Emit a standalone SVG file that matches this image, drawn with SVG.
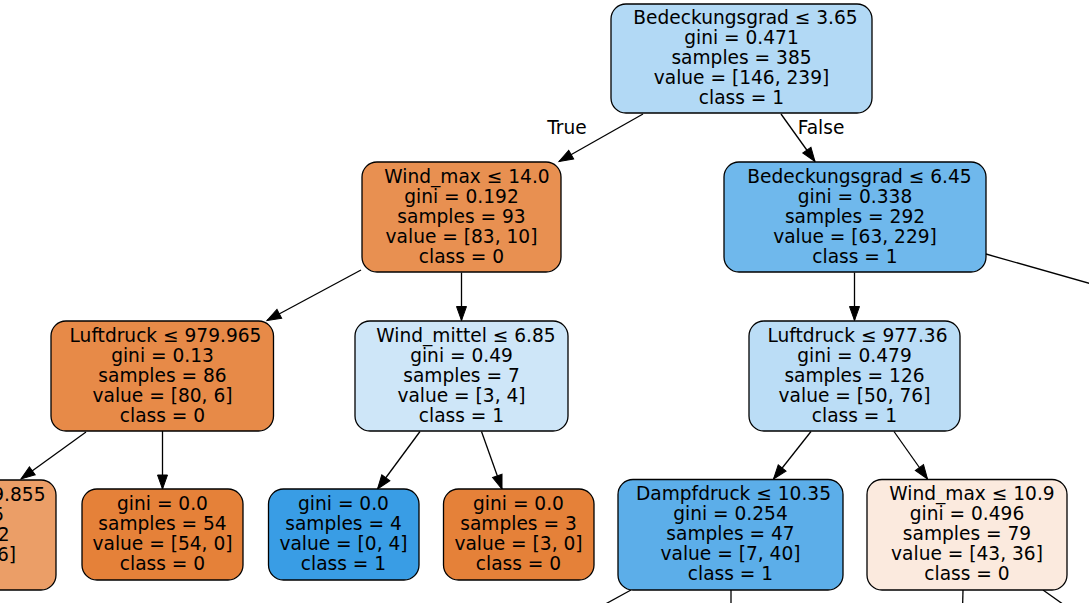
<svg xmlns="http://www.w3.org/2000/svg" width="1089" height="603" viewBox="0 0 1089 603">
<defs>
<marker id="ah" markerUnits="userSpaceOnUse" markerWidth="15" markerHeight="11" refX="14" refY="5" orient="auto" overflow="visible">
<path d="M0,0 L14,5 L0,10 z" fill="#000" stroke="#000" stroke-width="1"/>
</marker>
<style>
.n rect{stroke:#000;stroke-width:1.3}
text{font-family:"DejaVu Sans","Liberation Sans",sans-serif;font-size:18.6px;fill:#000;text-anchor:middle}
.e line{stroke:#000;stroke-width:1.3;fill:none}
.e .a{marker-end:url(#ah)}
</style>
</defs>
<rect width="1089" height="603" fill="#fff"/>
<g class="e" id="edges">
<line class="a" x1="643" y1="114" x2="559" y2="161.5"/>
<line class="a" x1="781" y1="114" x2="815" y2="161.5"/>
<line class="a" x1="361" y1="270" x2="267" y2="320.5"/>
<line class="a" x1="461.5" y1="272.5" x2="461.5" y2="320.5"/>
<line class="a" x1="854.5" y1="272.5" x2="854.5" y2="320.5"/>
<line x1="986" y1="254" x2="1095" y2="285"/>
<line class="a" x1="86" y1="432" x2="21" y2="479"/>
<line class="a" x1="162.5" y1="431" x2="162.5" y2="489"/>
<line class="a" x1="420" y1="431.5" x2="377.5" y2="489"/>
<line class="a" x1="481.5" y1="431.5" x2="502" y2="489"/>
<line class="a" x1="811" y1="431.5" x2="773.5" y2="479"/>
<line class="a" x1="894" y1="431.5" x2="927.5" y2="479"/>
<line x1="631" y1="590" x2="600" y2="607"/>
<line x1="731" y1="590" x2="731" y2="610"/>
<line x1="963" y1="590" x2="962.5" y2="610"/>
<line x1="1043" y1="590" x2="1067" y2="607"/>
<text x="567" y="134">True</text>
<text x="821" y="134">False</text>
</g>
<g class="n" id="n0">
<rect x="611" y="4" width="261" height="109" rx="15" fill="#b2d9f5"/>
<text x="745.5" y="24">Bedeckungsgrad ≤ 3.65</text>
<text x="741.5" y="44">gini = 0.471</text>
<text x="741.5" y="64">samples = 385</text>
<text x="741.5" y="84">value = [146, 239]</text>
<text x="741.5" y="104">class = 1</text>
</g>
<g class="n" id="n1">
<rect x="362" y="162" width="199" height="110" rx="15" fill="#e89051"/>
<text x="467" y="182.5">Wind_max ≤ 14.0</text>
<text x="461.5" y="202.5">gini = 0.192</text>
<text x="461.5" y="222.5">samples = 93</text>
<text x="461.5" y="242.5">value = [83, 10]</text>
<text x="461.5" y="262.5">class = 0</text>
</g>
<g class="n" id="n2">
<rect x="724" y="162" width="262" height="110" rx="15" fill="#6fb8ec"/>
<text x="859.5" y="182.5">Bedeckungsgrad ≤ 6.45</text>
<text x="855" y="202.5">gini = 0.338</text>
<text x="855" y="222.5">samples = 292</text>
<text x="855" y="242.5">value = [63, 229]</text>
<text x="855" y="262.5">class = 1</text>
</g>
<g class="n" id="n3">
<rect x="51" y="321" width="222.5" height="110" rx="15" fill="#e78a48"/>
<text x="165.5" y="341.5">Luftdruck ≤ 979.965</text>
<text x="162.5" y="361.5">gini = 0.13</text>
<text x="162.5" y="381.5">samples = 86</text>
<text x="162.5" y="401.5">value = [80, 6]</text>
<text x="162.5" y="421.5">class = 0</text>
</g>
<g class="n" id="n4">
<rect x="355" y="321" width="213" height="110" rx="15" fill="#cee6f8"/>
<text x="466" y="341.5">Wind_mittel ≤ 6.85</text>
<text x="461.5" y="361.5">gini = 0.49</text>
<text x="461.5" y="381.5">samples = 7</text>
<text x="461.5" y="401.5">value = [3, 4]</text>
<text x="461.5" y="421.5">class = 1</text>
</g>
<g class="n" id="n5">
<rect x="749" y="321" width="211" height="110" rx="15" fill="#bbddf6"/>
<text x="857.5" y="341.5">Luftdruck ≤ 977.36</text>
<text x="854.5" y="361.5">gini = 0.479</text>
<text x="854.5" y="381.5">samples = 126</text>
<text x="854.5" y="401.5">value = [50, 76]</text>
<text x="854.5" y="421.5">class = 1</text>
</g>
<g class="n" id="n6">
<rect x="-150" y="480" width="206" height="110" rx="15" fill="#eb9e67"/>
<text x="45.5" y="500.5" style="text-anchor:end">9.855</text>
<text x="4" y="520.5" style="text-anchor:end">5</text>
<text x="9.5" y="540.5" style="text-anchor:end">2</text>
<text x="16" y="560.5" style="text-anchor:end">6]</text>
</g>
<g class="n" id="n7">
<rect x="82" y="489" width="161" height="91" rx="15" fill="#e58139"/>
<text x="162.5" y="510">gini = 0.0</text>
<text x="162.5" y="530">samples = 54</text>
<text x="162.5" y="550">value = [54, 0]</text>
<text x="162.5" y="570">class = 0</text>
</g>
<g class="n" id="n8">
<rect x="268.5" y="489" width="150.5" height="91" rx="15" fill="#399de5"/>
<text x="343.5" y="510">gini = 0.0</text>
<text x="343.5" y="530">samples = 4</text>
<text x="343.5" y="550">value = [0, 4]</text>
<text x="343.5" y="570">class = 1</text>
</g>
<g class="n" id="n9">
<rect x="443.5" y="489" width="150.5" height="91" rx="15" fill="#e58139"/>
<text x="518.5" y="510">gini = 0.0</text>
<text x="518.5" y="530">samples = 3</text>
<text x="518.5" y="550">value = [3, 0]</text>
<text x="518.5" y="570">class = 0</text>
</g>
<g class="n" id="n10">
<rect x="618" y="479.5" width="225" height="110.5" rx="15" fill="#5caee9"/>
<text x="733.5" y="500">Dampfdruck ≤ 10.35</text>
<text x="730.5" y="520">gini = 0.254</text>
<text x="730.5" y="540">samples = 47</text>
<text x="730.5" y="560">value = [7, 40]</text>
<text x="730.5" y="580">class = 1</text>
</g>
<g class="n" id="n11">
<rect x="867" y="479.5" width="200" height="110.5" rx="15" fill="#fbeade"/>
<text x="972" y="500">Wind_max ≤ 10.9</text>
<text x="967" y="520">gini = 0.496</text>
<text x="967" y="540">samples = 79</text>
<text x="967" y="560">value = [43, 36]</text>
<text x="967" y="580">class = 0</text>
</g>
</svg>
